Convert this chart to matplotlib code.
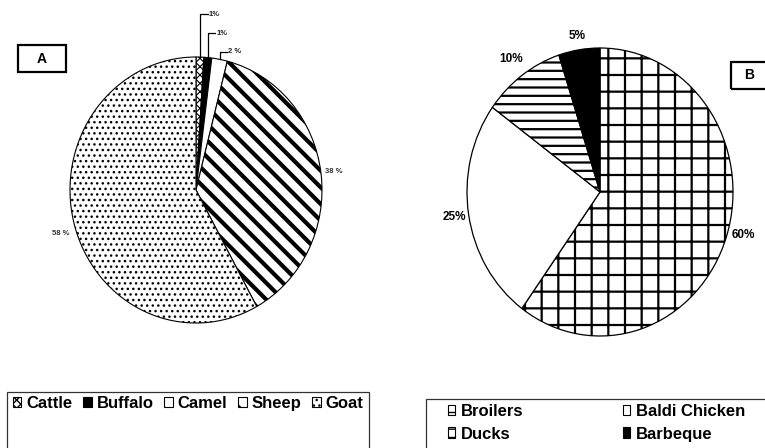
import matplotlib
matplotlib.use('Agg')
import matplotlib.pyplot as plt
from matplotlib.patches import Rectangle, Patch
import numpy as np

plt.rcParams['font.family'] = ['Liberation Sans', 'DejaVu Sans']
plt.rcParams['font.weight'] = 'bold'

# ---- data ----
species = ['Cattle', 'Buffalo', 'Camel', 'Sheep', 'Goat']
species_share = [1, 1, 2, 38, 58]
species_labels = ['1%', '1%', '2 %', '38 %', '58 %']

poultry = ['Broilers', 'Baldi Chicken', 'Ducks', 'Barbeque']
poultry_share = [60, 25, 10, 5]
poultry_labels = ['60%', '25%', '10%', '5%']

# ---- styles ----
species_hatch = ['xxxx', '', '', '\\\\', '...']
species_face = ['white', 'black', 'white', 'white', 'white']
species_hlw = [0.8, 0.8, 0.8, 3.0, 1.0]
poultry_hatch = ['+', '', '--', '']
poultry_face = ['white', 'white', 'white', 'black']
poultry_hlw = [1.6, 1.0, 1.6, 1.0]

W, H = 765, 448
fig = plt.figure(figsize=(W / 100, H / 100), dpi=100)


def px_axes(cx, cy, rx, ry):
    return fig.add_axes([(cx - rx) / W, (H - cy - ry) / H, 2 * rx / W, 2 * ry / H])


def set_hlw(patch, lw):
    if hasattr(patch, 'set_hatch_linewidth'):
        patch.set_hatch_linewidth(lw)


# ---- Pie A ----
axA = px_axes(196, 190, 126, 133)
wA, _ = axA.pie(species_share, startangle=90, counterclock=False,
                colors=species_face, hatch=species_hatch,
                wedgeprops=dict(edgecolor='black', linewidth=0.8))
for w, lw in zip(wA, species_hlw):
    set_hlw(w, lw)
axA.set_aspect('auto')
axA.set_xlim(-1, 1)
axA.set_ylim(-1, 1)

lead_levels = [1.32, 1.18, 1.04]
label_pos_A = [None, None, None, (1.10, 0.0), (1.12, 2.5)]
for i, w in enumerate(wA):
    mid_deg = (w.theta1 + w.theta2) / 2
    if i < 3:
        mid = np.deg2rad(mid_deg)
        x, y = np.cos(mid), np.sin(mid)
        lev = lead_levels[i]
        axA.plot([x, x, x + 0.06], [y, lev, lev], color='black', lw=0.9,
                 clip_on=False)
        axA.text(x + 0.07, lev, species_labels[i], fontsize=5.5,
                 ha='left', va='center', color='#222222')
    else:
        d, dth = label_pos_A[i]
        mid = np.deg2rad(mid_deg + dth)
        axA.text(d * np.cos(mid), d * np.sin(mid), species_labels[i],
                 fontsize=5.5, ha='center', va='center', color='#333333')

# ---- Pie B ----
axB = px_axes(600, 192, 133, 144)
wB, _ = axB.pie(poultry_share, startangle=90, counterclock=False,
                colors=poultry_face, hatch=poultry_hatch,
                wedgeprops=dict(edgecolor='black', linewidth=0.9))
for w, lw in zip(wB, poultry_hlw):
    set_hlw(w, lw)
axB.set_aspect('auto')
axB.set_xlim(-1, 1)
axB.set_ylim(-1, 1)
label_pos_B = [(1.12, 2.4), (1.11, 0.0), (1.14, 0.0), (1.10, 0.0)]
for i, w in enumerate(wB):
    d, dth = label_pos_B[i]
    mid = np.deg2rad((w.theta1 + w.theta2) / 2 + dth)
    axB.text(d * np.cos(mid), d * np.sin(mid), poultry_labels[i], fontsize=8.5,
             ha='center', va='center', color='black')

# ---- panel boxes ----
fig.add_artist(Rectangle((18 / W, (H - 72) / H), 48 / W, 27 / H,
                         transform=fig.transFigure, fill=False,
                         edgecolor='black', lw=1.6))
fig.text(42 / W, 1 - 59 / H, 'A', fontsize=10, ha='center', va='center')
fig.add_artist(Rectangle((731 / W, (H - 89) / H), 38 / W, 27 / H,
                         transform=fig.transFigure, fill=False,
                         edgecolor='black', lw=1.6))
fig.text(749 / W, 1 - 75 / H, 'B', fontsize=10, ha='center', va='center')

# ---- legends ----
handlesA = []
for f, h, lw in zip(species_face, species_hatch, species_hlw):
    p = Patch(facecolor=f, edgecolor='black', hatch=h, linewidth=0.8)
    set_hlw(p, min(lw, 1.5))
    handlesA.append(p)
fig.legend(handlesA, species, ncol=5, loc='center left',
           bbox_to_anchor=(13 / W, 1 - 403 / H), frameon=False, fontsize=12,
           handlelength=0.5, handleheight=0.55, handletextpad=0.3,
           columnspacing=0.65, borderpad=0, borderaxespad=0)
fig.add_artist(Rectangle((7 / W, -10 / H), 362 / W, (H - 392 + 10) / H,
                         transform=fig.transFigure, fill=False,
                         edgecolor='#333333', lw=0.9))

handlesB = []
for f, h in zip(poultry_face, ['--', '', '--', '']):
    p = Patch(facecolor=f, edgecolor='black', hatch=h, linewidth=0.8)
    handlesB.append(p)
order = [0, 2, 1, 3]
fig.legend([handlesB[i] for i in order], [poultry[i] for i in order], ncol=2,
           loc='upper left', bbox_to_anchor=(448 / W, 1 - 404 / H),
           frameon=False, fontsize=12, handlelength=0.4, handleheight=0.6,
           handletextpad=0.35, columnspacing=6.0, labelspacing=0.45,
           borderpad=0, borderaxespad=0)
fig.add_artist(Rectangle((426 / W, -10 / H), (790 - 426) / W, (H - 399 + 10) / H,
                         transform=fig.transFigure, fill=False,
                         edgecolor='#333333', lw=0.9))

fig.savefig('out.png', dpi=100)
